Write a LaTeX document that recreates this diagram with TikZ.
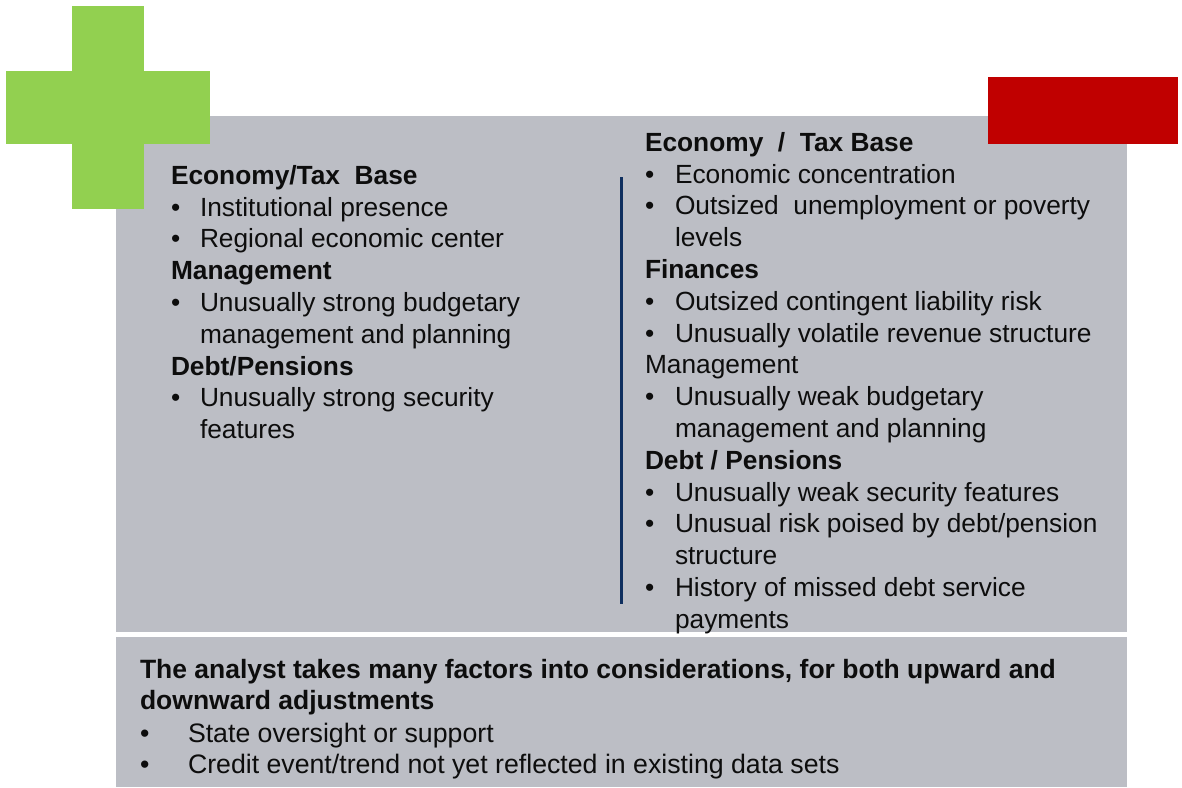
\documentclass[tikz,border=0pt]{standalone}
\usepackage{fontspec}
\setmainfont{Liberation Sans}
\definecolor{boxgray}{HTML}{BCBEC5}
\definecolor{plusgreen}{HTML}{92D050}
\definecolor{minusred}{HTML}{C00000}
\definecolor{rulenavy}{HTML}{0F2F5F}
\definecolor{ink}{HTML}{0D0D0D}
\tikzset{
  every node/.style={inner sep=0pt, outer sep=0pt, anchor=base west, text=ink, font=\fontsize{26.3}{31}\selectfont},
  hd/.style={font=\fontsize{26.3}{31}\selectfont\bfseries},
  bhd/.style={font=\fontsize{26.5}{31}\selectfont\bfseries},
  btx/.style={font=\fontsize{26.7}{31}\selectfont},
}
\begin{document}
\begin{tikzpicture}[x=1pt,y=-1pt]
\useasboundingbox (0,0) rectangle (1182,787);
% panels
\fill[boxgray] (116,116) rectangle (1127,632);
\fill[boxgray] (116,637) rectangle (1127,787);
% green plus
\fill[plusgreen] (72,6) rectangle (144,209);
\fill[plusgreen] (6,71) rectangle (210,144);
% red minus
\fill[minusred] (988,77) rectangle (1178,144);
% divider
\draw[rulenavy, line width=3pt] (621,177) -- (621,604);
% left column
\node[hd] (l1) at (171,184) {Economy/Tax\ \ Base};
\node (l2b) at (171,216) {•}; \node (l2) at (200,216) {Institutional presence};
\node (l3b) at (171,247) {•}; \node (l3) at (200,247) {Regional economic center};
\node[hd] (l4) at (171,279) {Management};
\node (l5b) at (171,311) {•}; \node (l5) at (200,311) {Unusually strong budgetary};
\node (l6) at (200,343) {management and planning};
\node[hd] (l7) at (171,375) {Debt/Pensions};
\node (l8b) at (171,406) {•}; \node (l8) at (200,406) {Unusually strong security};
\node (l9) at (200,438) {features};
% right column
\node[hd] (r1) at (645,151) {Economy\ \ /\ \ Tax Base};
\node (r2b) at (645,183) {•}; \node (r2) at (675,183) {Economic concentration};
\node (r3b) at (645,214) {•}; \node (r3) at (675,214) {Outsized\ \ unemployment or poverty};
\node (r4) at (675,246) {levels};
\node[hd] (r5) at (645,278) {Finances};
\node (r6b) at (645,310) {•}; \node (r6) at (675,310) {Outsized contingent liability risk};
\node (r7b) at (645,342) {•}; \node (r7) at (675,342) {Unusually volatile revenue structure};
\node (r8) at (645,373) {Management};
\node (r9b) at (645,405) {•}; \node (r9) at (675,405) {Unusually weak budgetary};
\node (r10) at (675,437) {management and planning};
\node[hd] (r11) at (645,469) {Debt / Pensions};
\node (r12b) at (645,501) {•}; \node (r12) at (675,501) {Unusually weak security features};
\node (r13b) at (645,532) {•}; \node (r13) at (675,532) {Unusual risk poised by debt/pension};
\node (r14) at (675,564) {structure};
\node (r15b) at (645,596) {•}; \node (r15) at (675,596) {History of missed debt service};
\node (r16) at (675,628) {payments};
% bottom panel
\node[bhd] (b1) at (140,678) {The analyst takes many factors into considerations, for both upward and};
\node[bhd] (b2) at (140,709) {downward adjustments};
\node[btx] (b3b) at (140,742) {•}; \node[btx] (b3) at (188,742) {State oversight or support};
\node[btx] (b4b) at (140,773) {•}; \node[btx] (b4) at (188,773) {Credit event/trend not yet reflected in existing data sets};
\end{tikzpicture}
\end{document}
